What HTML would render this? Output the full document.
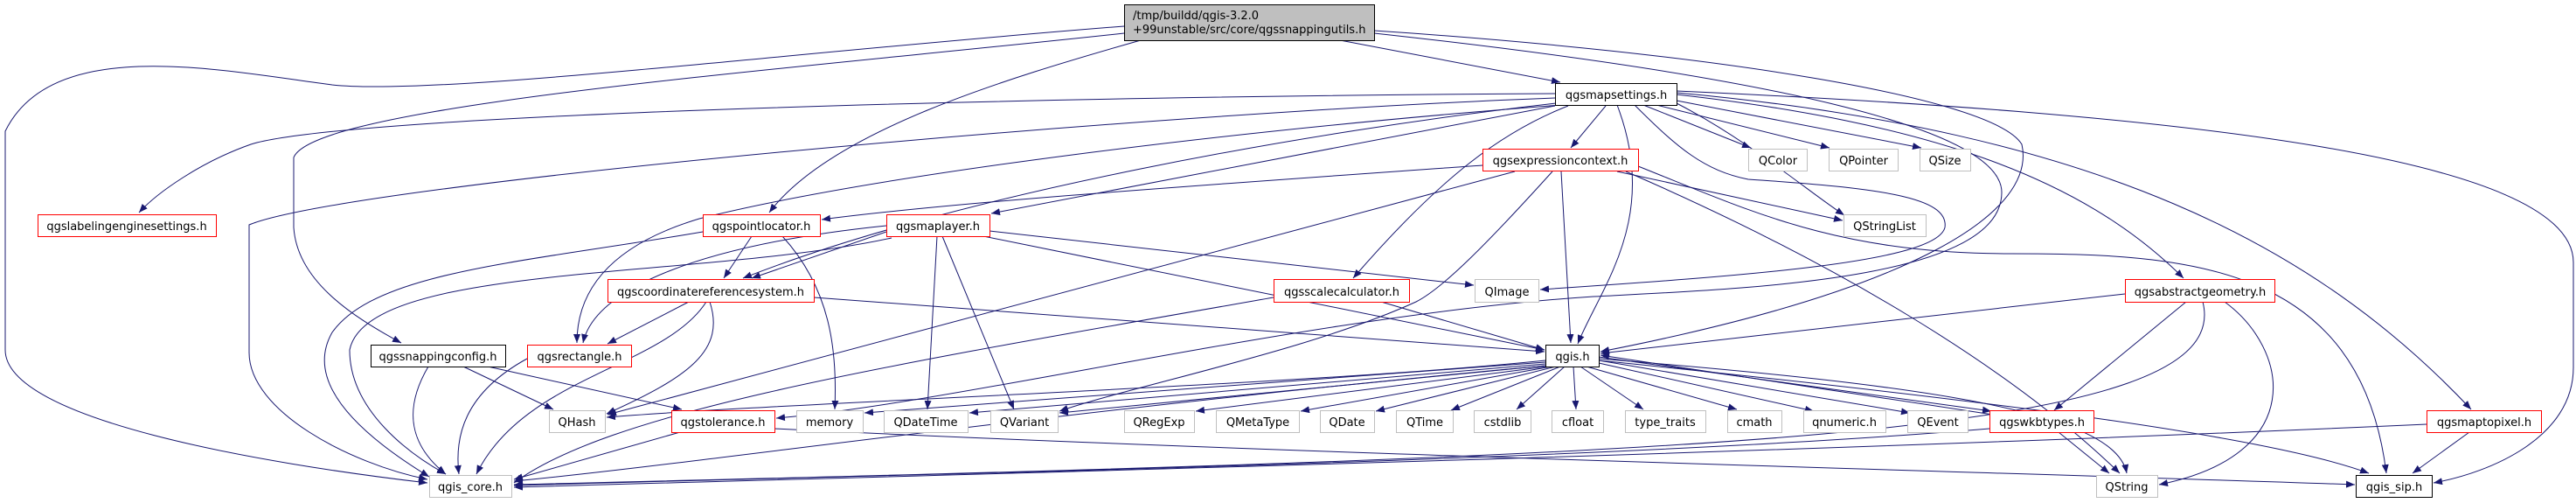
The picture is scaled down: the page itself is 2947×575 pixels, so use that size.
<!DOCTYPE html>
<html><head><meta charset="utf-8"><style>
html,body{margin:0;padding:0;background:#fff;}
body{width:2947px;height:575px;overflow:hidden;position:relative;font-family:"DejaVu Sans",sans-serif;}
svg{position:absolute;left:0;top:0;}
</style></head><body>
<svg width="2947" height="575" viewBox="0 0 2947 575" xmlns="http://www.w3.org/2000/svg">
<defs><marker id="a" markerWidth="10" markerHeight="8" refX="10" refY="4" orient="auto" markerUnits="userSpaceOnUse"><path d="M0,0 L10,4 L0,8 z" fill="#191970"/></marker></defs>
<g fill="none" stroke="#191970" stroke-width="1" marker-end="url(#a)">
<path d="M1286,30 C900,60 500,110 380,97 C250,80 60,40 6,150 L6,400 C6,480 300,530 489,552"/>
<path d="M1286,38 C900,80 360,120 336,180 L336,260 C340,320 400,360 459,392"/>
<path d="M1305,46 C1150,90 950,150 880,243"/>
<path d="M1533,46 L1785,94"/>
<path d="M1572,35 C1950,60 2280,110 2313,165 C2330,240 2200,330 1831,402"/>
<path d="M1572,38 C2050,90 2290,150 2290,220 C2290,320 2000,330 1823,339 C1500,360 1100,460 888,478"/>
<path d="M1779,107 C1200,110 400,130 287,165 C230,185 180,220 159,243"/>
<path d="M1779,112 C1300,130 400,210 285,257 L285,403 C285,470 400,530 489,548"/>
<path d="M1785,120 C1400,150 1000,200 800,250 C700,280 660,330 660,392"/>
<path d="M1780,118 C1500,150 1100,220 850,318"/>
<path d="M1779,121 L1134,244"/>
<path d="M1837,121 L1797,169"/>
<path d="M1794,121 C1720,150 1650,200 1548,318"/>
<path d="M1870,120 C1920,170 1950,195 2000,205 C2150,215 2230,225 2225,260 C2215,300 2000,315 1762,331"/>
<path d="M1880,120 L2003,169"/>
<path d="M1895,120 L2093,169"/>
<path d="M1918,115 L2198,169"/>
<path d="M1918,118 C2000,160 2070,220 2110,246"/>
<path d="M1850,120 C1900,250 1830,330 1805,393"/>
<path d="M1918,108 C2200,140 2380,200 2498,318"/>
<path d="M1918,106 C2400,150 2650,280 2827,468"/>
<path d="M1918,104 C2500,130 2944,180 2944,300 L2944,420 C2944,500 2850,540 2784,552"/>
<path d="M1696,189 C1400,210 1100,230 940,251"/>
<path d="M1733,196 L695,474"/>
<path d="M1776,196 C1700,280 1650,330 1620,345 C1500,400 1300,440 1212,470"/>
<path d="M1786,196 L1797,392"/>
<path d="M1850,196 L2108,252"/>
<path d="M1860,196 C2100,300 2300,420 2425,541"/>
<path d="M1874,190 C2000,240 2100,290 2300,290 C2500,290 2700,300 2730,541"/>
<path d="M1014,258 C800,280 680,330 667,392"/>
<path d="M1014,265 L860,318"/>
<path d="M1020,272 C800,320 420,300 400,400 C400,470 470,520 510,542"/>
<path d="M1072,270 L1061,468"/>
<path d="M1078,270 L1160,468"/>
<path d="M1132,264 L1686,326"/>
<path d="M1125,270 L1767,400"/>
<path d="M860,270 L828,318"/>
<path d="M804,265 C600,300 430,310 380,380 C340,450 450,520 491,545"/>
<path d="M895,270 C950,330 958,400 955,468"/>
<path d="M788,345 L695,393"/>
<path d="M808,345 C760,420 600,430 545,542"/>
<path d="M812,345 C830,400 790,430 694,473"/>
<path d="M931,340 L1767,402"/>
<path d="M603,410 C530,450 520,500 525,542"/>
<path d="M490,419 C460,470 470,510 510,542"/>
<path d="M530,419 L633,468"/>
<path d="M558,419 L780,468"/>
<path d="M778,494 L588,548"/>
<path d="M886,490 C1500,520 2300,540 2694,554"/>
<path d="M1457,340 C1000,420 700,470 588,552"/>
<path d="M1580,345 L1767,400"/>
<path d="M2431,336 L1831,404"/>
<path d="M2501,345 L2350,469"/>
<path d="M2520,345 C2560,500 2000,520 588,554"/>
<path d="M2545,345 C2620,400 2640,520 2470,554"/>
<path d="M1768,412 C1500,440 900,460 694,477"/>
<path d="M1768,414 L989,472"/>
<path d="M1768,416 L1109,472"/>
<path d="M1768,418 L1212,472"/>
<path d="M1770,419 L1368,470"/>
<path d="M1775,419 L1488,470"/>
<path d="M1780,419 L1574,470"/>
<path d="M1785,419 L1660,469"/>
<path d="M1790,419 L1735,468"/>
<path d="M1800,419 L1803,468"/>
<path d="M1808,419 L1880,468"/>
<path d="M1815,419 L1987,468"/>
<path d="M1829,415 L2075,470"/>
<path d="M1829,412 L2185,472"/>
<path d="M1829,408 L2278,470"/>
<path d="M2280,474 L1831,406"/>
<path d="M1829,410 C2200,440 2420,470 2433,541"/>
<path d="M1829,412 C2300,460 2600,500 2710,541"/>
<path d="M1768,418 C1200,470 800,530 588,550"/>
<path d="M2355,494 L2413,541"/>
<path d="M2276,490 C1800,530 900,545 588,555"/>
<path d="M2776,485 C2000,520 1000,545 588,557"/>
<path d="M2825,494 L2760,541"/>
</g>
<g font-family="DejaVu Sans, sans-serif" font-size="13" text-anchor="middle" fill="#000">
<rect x="1286.5" y="5.5" width="286" height="41" fill="#bfbfbf" stroke="#000"/>
<text x="1296" y="22" text-anchor="start">/tmp/buildd/qgis-3.2.0</text>
<text x="1296" y="38" text-anchor="start">+99unstable/src/core/qgssnappingutils.h</text>
<rect x="1779.5" y="95.5" width="139" height="25" fill="#fff" stroke="#000"/><text x="1849" y="113">qgsmapsettings.h</text>
<rect x="1696.5" y="170.5" width="178" height="25" fill="#fff" stroke="#f00"/><text x="1785" y="188">qgsexpressioncontext.h</text>
<rect x="2000.5" y="170.5" width="67" height="25" fill="#fff" stroke="#bfbfbf"/><text x="2034" y="188">QColor</text>
<rect x="2092.5" y="170.5" width="79" height="25" fill="#fff" stroke="#bfbfbf"/><text x="2132" y="188">QPointer</text>
<rect x="2196.5" y="170.5" width="58" height="25" fill="#fff" stroke="#bfbfbf"/><text x="2225" y="188">QSize</text>
<rect x="43.5" y="245.5" width="204" height="25" fill="#fff" stroke="#f00"/><text x="145" y="263">qgslabelingenginesettings.h</text>
<rect x="804.5" y="245.5" width="134" height="25" fill="#fff" stroke="#f00"/><text x="871" y="263">qgspointlocator.h</text>
<rect x="1014.5" y="245.5" width="118" height="25" fill="#fff" stroke="#f00"/><text x="1073" y="263">qgsmaplayer.h</text>
<rect x="2109.5" y="245.5" width="94" height="25" fill="#fff" stroke="#bfbfbf"/><text x="2156" y="263">QStringList</text>
<rect x="695.5" y="319.5" width="236" height="26" fill="#fff" stroke="#f00"/><text x="813" y="338">qgscoordinatereferencesystem.h</text>
<rect x="1457.5" y="319.5" width="155" height="26" fill="#fff" stroke="#f00"/><text x="1535" y="338">qgsscalecalculator.h</text>
<rect x="1687.5" y="319.5" width="73" height="26" fill="#fff" stroke="#bfbfbf"/><text x="1724" y="338">QImage</text>
<rect x="2431.5" y="319.5" width="171" height="26" fill="#fff" stroke="#f00"/><text x="2517" y="338">qgsabstractgeometry.h</text>
<rect x="424.5" y="394.5" width="154" height="25" fill="#fff" stroke="#000"/><text x="501" y="412">qgssnappingconfig.h</text>
<rect x="603.5" y="394.5" width="119" height="25" fill="#fff" stroke="#f00"/><text x="663" y="412">qgsrectangle.h</text>
<rect x="1768.5" y="394.5" width="61" height="25" fill="#fff" stroke="#000"/><text x="1799" y="412">qgis.h</text>
<g stroke="#bfbfbf" fill="#fff">
<rect x="628.5" y="469.5" width="64" height="25"/><rect x="911.5" y="469.5" width="76" height="25"/>
<rect x="1011.5" y="469.5" width="96" height="25"/><rect x="1133.5" y="469.5" width="77" height="25"/>
<rect x="1286.5" y="469.5" width="80" height="25"/><rect x="1391.5" y="469.5" width="95" height="25"/>
<rect x="1510.5" y="469.5" width="62" height="25"/><rect x="1597.5" y="469.5" width="65" height="25"/>
<rect x="1686.5" y="469.5" width="65" height="25"/><rect x="1775.5" y="469.5" width="59" height="25"/>
<rect x="1859.5" y="469.5" width="92" height="25"/><rect x="1976.5" y="469.5" width="62" height="25"/>
<rect x="2063.5" y="469.5" width="94" height="25"/><rect x="2182.5" y="469.5" width="69" height="25"/>
<rect x="491.5" y="543.5" width="94" height="25"/><rect x="2398.5" y="543.5" width="70" height="25"/>
</g>
<rect x="768.5" y="469.5" width="118" height="25" fill="#fff" stroke="#f00"/><text x="827" y="487">qgstolerance.h</text>
<rect x="2276.5" y="469.5" width="119" height="25" fill="#fff" stroke="#f00"/><text x="2336" y="487">qgswkbtypes.h</text>
<rect x="2776.5" y="469.5" width="131" height="25" fill="#fff" stroke="#f00"/><text x="2842" y="487">qgsmaptopixel.h</text>
<rect x="2695.5" y="543.5" width="87" height="25" fill="#fff" stroke="#000"/><text x="2739" y="561">qgis_sip.h</text>
<text x="660" y="487">QHash</text><text x="949" y="487">memory</text>
<text x="1059" y="487">QDateTime</text><text x="1172" y="487">QVariant</text>
<text x="1326" y="487">QRegExp</text><text x="1439" y="487">QMetaType</text>
<text x="1541" y="487">QDate</text><text x="1630" y="487">QTime</text>
<text x="1719" y="487">cstdlib</text><text x="1805" y="487">cfloat</text>
<text x="1905" y="487">type_traits</text><text x="2007" y="487">cmath</text>
<text x="2110" y="487">qnumeric.h</text><text x="2217" y="487">QEvent</text>
<text x="538" y="561">qgis_core.h</text><text x="2433" y="561">QString</text>
</g>
</svg>
</body></html>
